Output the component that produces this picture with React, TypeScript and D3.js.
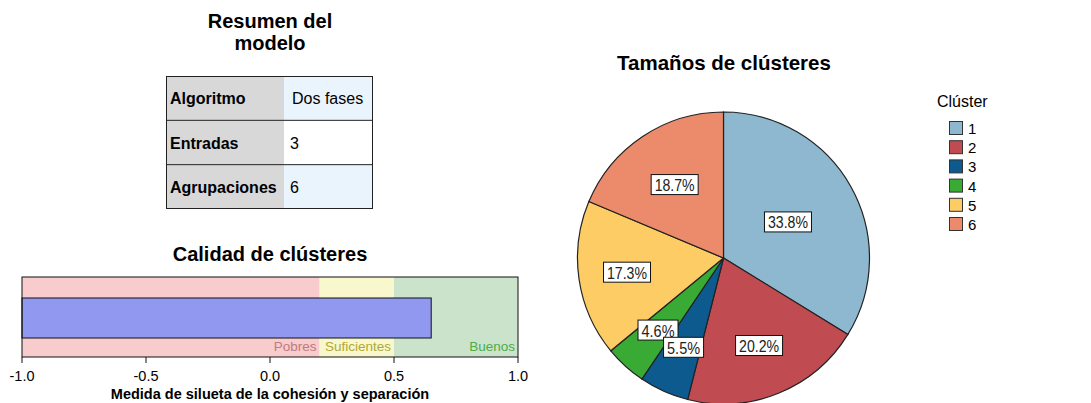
import React from "react";
import * as d3 from "d3";

const tableRows = ["Algoritmo", "Entradas", "Agrupaciones"];
const tableValues = ["Dos fases", "3", "6"];
const silhouette = 0.65;
const zones = [
  { name: "Pobres", from: -1, to: 0.2 },
  { name: "Suficientes", from: 0.2, to: 0.5 },
  { name: "Buenos", from: 0.5, to: 1 },
];
const axisTicks = [-1, -0.5, 0, 0.5, 1];
const clusters = ["1", "2", "3", "4", "5", "6"];
const clusterPct = [33.8, 20.2, 5.5, 4.6, 17.3, 18.7];
const clusterColors = ["#8db8d0", "#c04b50", "#0d5a8e", "#39ab35", "#fdcc65", "#ec8b6b"];

const FONT = "'Liberation Sans', Arial, sans-serif";

export default function App() {
  const x = d3.scaleLinear().domain([-1, 1]).range([22, 518]);
  const zoneFill = ["#f8cbcc", "#f8f8cc", "#cbe3cb"];
  const zoneText = ["#c07a80", "#b0a838", "#4cac4c"];

  const cx = 723.5, cy = 258, r = 146;
  const pie = d3.pie<number>().sort(null).value((d) => d)(clusterPct);
  const arc = d3.arc<d3.PieArcDatum<number>>().innerRadius(0).outerRadius(r);
  const labelRadius = [0.506, 0.647, 0.67, 0.667, 0.668, 0.604];

  const rowY = d3.scaleBand().domain(tableRows).range([76, 209]);
  const labelOrder = pie.map((_, i) => i).reverse();

  return (
    <svg width={1091} height={403} style={{ position: "absolute", left: 0, top: 0 }} fontFamily={FONT}>
      {/* Model summary */}
      <text x={270} y={28} textAnchor="middle" fontSize={20} fontWeight="bold">Resumen del</text>
      <text x={270} y={50} textAnchor="middle" fontSize={20} fontWeight="bold">modelo</text>
      {tableRows.map((row, i) => {
        const y0 = rowY(row)!;
        const h = rowY.bandwidth();
        return (
          <g key={row}>
            <rect x={166} y={y0} width={118} height={h} fill="#d8d8d8" />
            <rect x={284} y={y0} width={89} height={h} fill={i === 1 ? "#ffffff" : "#eaf4fd"} />
            <text x={170} y={y0 + h / 2 + 6} fontSize={16} fontWeight="bold">{row}</text>
            <text x={i === 0 ? 292 : 290} y={y0 + h / 2 + 6} fontSize={16}>{tableValues[i]}</text>
            {i > 0 && <line x1={166} x2={373} y1={y0} y2={y0} stroke="#222" strokeWidth={1} />}
          </g>
        );
      })}
      <rect x={166.5} y={76.5} width={206} height={132} fill="none" stroke="#222" strokeWidth={1} />

      {/* Cluster quality */}
      <text x={270} y={261} textAnchor="middle" fontSize={20} fontWeight="bold">Calidad de clústeres</text>
      {zones.map((z, i) => (
        <rect key={z.name} x={x(z.from)} y={277} width={x(z.to) - x(z.from)} height={80} fill={zoneFill[i]} />
      ))}
      <rect x={x(-1)} y={298} width={x(silhouette) - x(-1)} height={40} fill="#9098ef" stroke="#111" strokeWidth={1} />
      {zones.map((z, i) => (
        <text key={z.name} x={x(z.to) - 3} y={351} textAnchor="end" fontSize={13.5} fill={zoneText[i]}>{z.name}</text>
      ))}
      <rect x={x(-1)} y={277} width={x(1) - x(-1)} height={80} fill="none" stroke="#111" strokeWidth={1} />
      {axisTicks.map((t) => (
        <g key={t}>
          <line x1={x(t)} x2={x(t)} y1={357} y2={363} stroke="#111" />
          <text x={x(t)} y={381} textAnchor="middle" fontSize={14.5}>{t.toFixed(1)}</text>
        </g>
      ))}
      <text x={270} y={399} textAnchor="middle" fontSize={14.5} fontWeight="bold">Medida de silueta de la cohesión y separación</text>

      {/* Pie */}
      <text x={724} y={70} textAnchor="middle" fontSize={20.5} fontWeight="bold">Tamaños de clústeres</text>
      <g transform={`translate(${cx},${cy})`}>
        {pie.map((p, i) => (
          <path key={i} d={arc(p)!} fill={clusterColors[i]} stroke="#222" strokeWidth={1.2} />
        ))}
        {labelOrder.map((i) => {
          const p = pie[i];
          const a = (p.startAngle + p.endAngle) / 2;
          const rr = r * labelRadius[i];
          const lx = Math.sin(a) * rr;
          const ly = -Math.cos(a) * rr;
          const label = `${clusterPct[i].toFixed(1)}%`;
          const tw = label.length === 5 ? 40 : 33;
          const w = tw + 7;
          return (
            <g key={"l" + i} transform={`translate(${lx},${ly})`}>
              <rect x={-w / 2} y={-10} width={w} height={20} fill="#fff" stroke="#111" strokeWidth={1} />
              <text x={0} y={6.5} textAnchor="middle" fontSize={17} fill="#222" textLength={tw} lengthAdjust="spacingAndGlyphs">{label}</text>
            </g>
          );
        })}
      </g>

      {/* Legend */}
      <text x={937} y={107} fontSize={16}>Clúster</text>
      {clusters.map((c, i) => (
        <g key={c} transform={`translate(0,${121 + i * 19.2})`}>
          <rect x={949.5} y={0.5} width={13} height={13} fill={clusterColors[i]} stroke="#333" strokeWidth={1} />
          <text x={968} y={13} fontSize={15}>{c}</text>
        </g>
      ))}
    </svg>
  );
}
